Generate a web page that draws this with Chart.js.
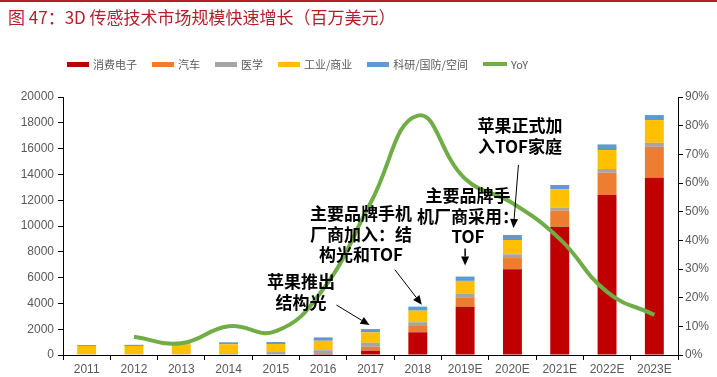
<!DOCTYPE html>
<html><head><meta charset="utf-8">
<script src="https://cdn.jsdelivr.net/npm/chart.js@4.4.0/dist/chart.umd.min.js"></script>
<style>
html,body{margin:0;padding:0;background:#fff;}
#wrap{position:relative;width:717px;height:377px;overflow:hidden;font-family:"Noto Sans CJK SC",sans-serif;}
#topline{position:absolute;left:0;top:0;width:717px;height:2px;background:#b3202c;}
#title{position:absolute;left:8px;top:5px;font-size:17px;color:#b3202c;line-height:24px;white-space:nowrap;}
#legend{position:absolute;left:67px;top:56px;display:flex;align-items:center;font-size:11px;color:#595959;height:16px;white-space:nowrap;}
.li{display:flex;align-items:center;margin-right:15px;}
.sw{width:22px;height:5px;margin-right:4px;}
.ann{position:absolute;font-size:17px;font-weight:700;color:#000;text-align:center;line-height:20.5px;white-space:nowrap;transform:translateX(-50%);}
canvas{position:absolute;left:0;top:0;}
</style></head>
<body>
<div id="wrap">
<canvas id="c" width="717" height="377"></canvas>
<div id="topline"></div>
<div id="title">图 47：3D 传感技术市场规模快速增长（百万美元）</div>
<div id="legend"></div>
<div class="ann" style="left:301px;top:271px;">苹果推出<br>结构光</div>
<div class="ann" style="left:361px;top:203px;">主要品牌手机<br>厂商加入：结<br>构光和TOF</div>
<div class="ann" style="left:468px;top:185px;">主要品牌手<br>机厂商采用：<br>TOF</div>
<div class="ann" style="left:520px;top:115px;">苹果正式加<br>入TOF家庭</div>
</div>
<script>
const categories = ['2011','2012','2013','2014','2015','2016','2017','2018','2019E','2020E','2021E','2022E','2023E'];
const consumer   = [0, 0, 0, 0, 0, 20, 330, 1760, 3745, 6640, 9945, 12400, 13740];
const automotive = [0, 0, 0, 0, 0, 20, 310, 490, 730, 875, 1240, 1730, 2400];
const medical    = [60, 60, 60, 130, 230, 330, 310, 290, 260, 290, 230, 285, 310];
const industrial = [640, 640, 770, 700, 620, 735, 805, 900, 1010, 1110, 1425, 1470, 1760];
const research   = [70, 90, 70, 155, 155, 260, 255, 310, 335, 390, 335, 440, 390];
const yoy        = [null, 6.4, 4.1, 10.0, 8.3, 23, 53, 83.5, 61.5, 53, 40.5, 22, 14];
const leftTicks  = [0,2000,4000,6000,8000,10000,12000,14000,16000,18000,20000];
const rightTicks = [0,10,20,30,40,50,60,70,80,90];
const seriesNames  = ['消费电子','汽车','医学','工业/商业','科研/国防/空间','YoY'];
const seriesColors = ['#c00000','#ed7d31','#a5a5a5','#ffc000','#5b9bd5','#70ad47'];

// annotations: category index, tail offset (dx,dy) from tip, gap above bar top, tip dx
const arrows = [
  {i:6, dx:-33, dy:-20, gap:4, tdx:-1, w:1},
  {i:7, dx:-27, dy:-35, gap:2, tdx:4, w:1},
  {i:8, dx:0, dy:-17, gap:11, tdx:0, w:1.5},
  {i:9, dx:5, dy:-63, gap:7, tdx:1, w:1}
];

const leg = document.getElementById('legend');
seriesNames.forEach((n,k)=>{
  const d=document.createElement('div');d.className='li';
  const s=document.createElement('span');s.className='sw';s.style.background=seriesColors[k];
  if(k===5){s.style.height='4px';s.style.width='24px';}
  const t=document.createElement('span');t.textContent=n;
  d.appendChild(s);d.appendChild(t);leg.appendChild(d);
});

const totals = categories.map((_,i)=>consumer[i]+automotive[i]+medical[i]+industrial[i]+research[i]);

const arrowPlugin = {
  id:'arrows',
  afterDatasetsDraw(chart){
    const ctx=chart.ctx, xs=chart.scales.x, ys=chart.scales.y;
    ctx.save();
    ctx.strokeStyle='#000';ctx.fillStyle='#000';
    arrows.forEach(a=>{
      const tx=xs.getPixelForValue(a.i)+a.tdx, ty=ys.getPixelForValue(totals[a.i])-a.gap;
      const sx=tx+a.dx, sy=ty+a.dy;
      const ang=Math.atan2(ty-sy,tx-sx), L=9, W=4;
      const bx=tx-L*Math.cos(ang), by=ty-L*Math.sin(ang);
      ctx.lineWidth=a.w;
      ctx.beginPath();ctx.moveTo(sx,sy);ctx.lineTo(bx,by);ctx.stroke();
      ctx.beginPath();ctx.moveTo(tx,ty);
      ctx.lineTo(bx+W*Math.sin(ang),by-W*Math.cos(ang));
      ctx.lineTo(bx-W*Math.sin(ang),by+W*Math.cos(ang));
      ctx.closePath();ctx.fill();
    });
    ctx.restore();
  }
};

const barDs = (label,data,color)=>({type:'bar',label,data,backgroundColor:color,borderWidth:0,yAxisID:'y',stack:'s',order:2,barPercentage:0.8,categoryPercentage:0.5});
const tickFont={family:'"Liberation Sans", Arial, sans-serif',size:12};

new Chart(document.getElementById('c'),{
  data:{
    labels:categories,
    datasets:[
      {type:'line',label:seriesNames[5],data:yoy,borderColor:seriesColors[5],borderWidth:4,pointRadius:0,tension:0.45,yAxisID:'y1',order:0,spanGaps:false,borderCapStyle:'butt'},
      barDs(seriesNames[0],consumer,seriesColors[0]),
      barDs(seriesNames[1],automotive,seriesColors[1]),
      barDs(seriesNames[2],medical,seriesColors[2]),
      barDs(seriesNames[3],industrial,seriesColors[3]),
      barDs(seriesNames[4],research,seriesColors[4])
    ]
  },
  options:{
    responsive:false,animation:false,devicePixelRatio:1,
    layout:{padding:{top:97,left:0,right:0,bottom:0}},
    plugins:{legend:{display:false},tooltip:{enabled:false},title:{display:false}},
    scales:{
      x:{stacked:true,offset:true,
        grid:{display:true,drawOnChartArea:false,offset:true,color:'#000',tickLength:5,lineWidth:1},
        border:{display:true,color:'#000',width:1},
        ticks:{color:'#595959',font:tickFont,padding:2,maxRotation:0,autoSkip:false},
        afterFit(s){s.height=22;}
      },
      y:{stacked:true,position:'left',min:0,max:20000,
        afterBuildTicks(s){s.ticks=leftTicks.map(v=>({value:v}));},
        grid:{display:true,drawOnChartArea:false,color:'#000',tickLength:5},
        border:{display:true,color:'#000',width:1},
        ticks:{color:'#595959',font:tickFont,padding:4,callback:v=>String(v)},
        afterFit(s){s.width=63;}
      },
      y1:{position:'right',min:0,max:90,
        afterBuildTicks(s){s.ticks=rightTicks.map(v=>({value:v}));},
        grid:{display:true,drawOnChartArea:false,color:'#000',tickLength:5},
        border:{display:true,color:'#000',width:1},
        ticks:{color:'#595959',font:tickFont,padding:2,callback:v=>v+'%'},
        afterFit(s){s.width=39;}
      }
    }
  },
  plugins:[arrowPlugin]
});
</script>
</body></html>
